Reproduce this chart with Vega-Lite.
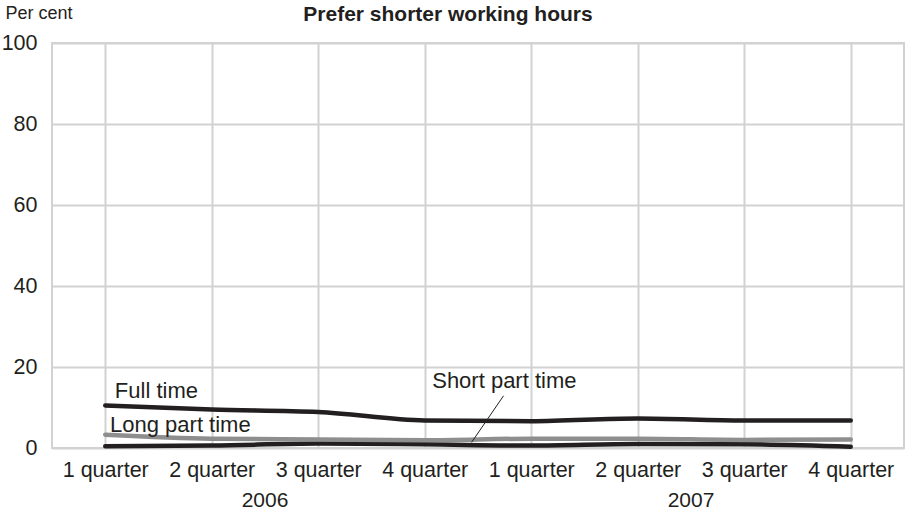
{
  "$schema": "https://vega.github.io/schema/vega-lite/v6.json",
  "width": 852,
  "height": 405,
  "autosize": {"type": "none"},
  "padding": {"left": 52, "top": 43, "right": 1, "bottom": 64},
  "background": "white",
  "config": {
    "font": "Liberation Sans",
    "view": {"stroke": "#d2d2d2", "strokeWidth": 2},
    "axis": {"labelFont": "Liberation Sans", "labelFontSize": 21.5, "labelColor": "#231f20", "gridColor": "#d2d2d2", "gridWidth": 2, "ticks": false, "domain": false}
  },
  "title": {"text": "Prefer shorter working hours", "font": "Liberation Sans", "fontSize": 21, "fontWeight": 900, "color": "#231f20", "anchor": "middle", "dx": -30, "offset": -21},
  "datasets": {
    "series": [
      {"q": 1, "series": "Short part time", "value": 0.45},
      {"q": 2, "series": "Short part time", "value": 0.6},
      {"q": 3, "series": "Short part time", "value": 1.1},
      {"q": 4, "series": "Short part time", "value": 0.9},
      {"q": 5, "series": "Short part time", "value": 0.6},
      {"q": 6, "series": "Short part time", "value": 1.0},
      {"q": 7, "series": "Short part time", "value": 0.9},
      {"q": 8, "series": "Short part time", "value": 0.3},
      {"q": 1, "series": "Long part time", "value": 3.3},
      {"q": 2, "series": "Long part time", "value": 2.3},
      {"q": 3, "series": "Long part time", "value": 2.1},
      {"q": 4, "series": "Long part time", "value": 1.9},
      {"q": 5, "series": "Long part time", "value": 2.3},
      {"q": 6, "series": "Long part time", "value": 2.3},
      {"q": 7, "series": "Long part time", "value": 2.0},
      {"q": 8, "series": "Long part time", "value": 2.1},
      {"q": 1, "series": "Full time", "value": 10.5},
      {"q": 2, "series": "Full time", "value": 9.5},
      {"q": 3, "series": "Full time", "value": 8.9},
      {"q": 4, "series": "Full time", "value": 6.8},
      {"q": 5, "series": "Full time", "value": 6.6},
      {"q": 6, "series": "Full time", "value": 7.3},
      {"q": 7, "series": "Full time", "value": 6.8},
      {"q": 8, "series": "Full time", "value": 6.8}
    ],
    "labels": [
      {"x": 1.09, "y": 12.3, "text": "Full time"},
      {"x": 1.045, "y": 3.9, "text": "Long part time"},
      {"x": 4.07, "y": 14.7, "text": "Short part time"}
    ],
    "years": [
      {"x": 2.5, "y": -14.6, "text": "2006"},
      {"x": 6.5, "y": -14.6, "text": "2007"}
    ],
    "leader": [
      {"x": 4.44, "y": 1.4, "x2": 4.74, "y2": 12.9}
    ]
  },
  "layer": [
    {
      "data": {"name": "series"},
      "mark": {"type": "line", "interpolate": "monotone", "strokeWidth": 4.5, "strokeCap": "round"},
      "encoding": {
        "x": {"field": "q", "type": "quantitative", "scale": {"domain": [0.5, 8.5], "nice": false, "zero": false},
          "axis": {"title": null, "values": [1, 2, 3, 4, 5, 6, 7, 8], "labelExpr": "(datum.value > 4 ? datum.value - 4 : datum.value) + ' quarter'", "labelPadding": 11, "labelBaseline": "top", "labelFlush": false}},
        "y": {"field": "value", "type": "quantitative", "scale": {"domain": [0, 100], "nice": false},
          "axis": {"values": [0, 20, 40, 60, 80, 100], "labelPadding": 15, "title": "Per cent", "titleAngle": 0, "titleAlign": "left", "titleBaseline": "alphabetic", "titleX": -47, "titleY": -25, "titleFont": "Liberation Sans", "titleFontSize": 18, "titleFontWeight": "normal", "titleColor": "#231f20"}},
        "color": {"field": "series", "type": "nominal", "scale": {"domain": ["Short part time", "Long part time", "Full time"], "range": ["#231f20", "#8e8e8e", "#231f20"]}, "legend": null},
        "order": {"field": "q"}
      }
    },
    {
      "data": {"name": "leader"},
      "mark": {"type": "rule", "color": "#231f20", "strokeWidth": 1},
      "encoding": {
        "x": {"field": "x", "type": "quantitative"},
        "y": {"field": "y", "type": "quantitative"},
        "x2": {"field": "x2"},
        "y2": {"field": "y2"}
      }
    },
    {
      "data": {"name": "labels"},
      "mark": {"type": "text", "fontSize": 22, "font": "Liberation Sans", "color": "#231f20", "baseline": "alphabetic", "align": "left"},
      "encoding": {
        "x": {"field": "x", "type": "quantitative"},
        "y": {"field": "y", "type": "quantitative"},
        "text": {"field": "text"}
      }
    },
    {
      "data": {"name": "years"},
      "mark": {"type": "text", "fontSize": 21, "font": "Liberation Sans", "color": "#231f20", "baseline": "alphabetic", "align": "center"},
      "encoding": {
        "x": {"field": "x", "type": "quantitative"},
        "y": {"field": "y", "type": "quantitative"},
        "text": {"field": "text"}
      }
    }
  ]
}
